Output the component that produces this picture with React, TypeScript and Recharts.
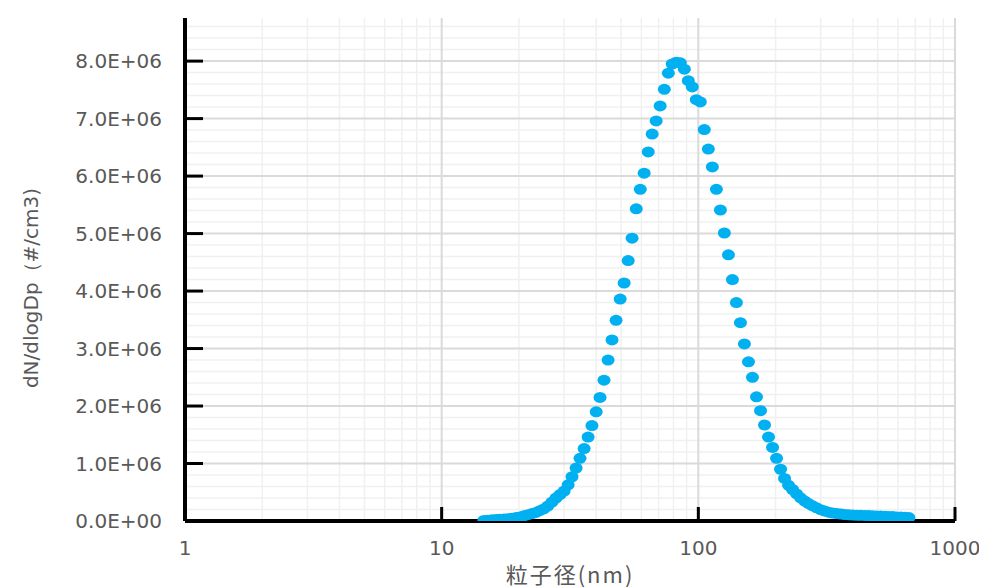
import { ScatterChart, Scatter, XAxis, YAxis, CartesianGrid, Label } from "recharts";

// 粒子径 (nm) — SMPS channel midpoints, 64 ch/decade
const diameters = [
  14.6, 15.1, 15.7, 16.3, 16.8, 17.5, 18.1, 18.8, 19.5, 20.2, 20.9, 21.7, 22.5, 23.3, 24.1, 25.0,
  25.9, 26.9, 27.9, 28.9, 30.0, 31.1, 32.2, 33.4, 34.6, 35.9, 37.2, 38.5, 40.0, 41.4, 42.9, 44.5,
  46.1, 47.8, 49.6, 51.4, 53.3, 55.2, 57.3, 59.4, 61.5, 63.8, 66.1, 68.5, 71.0, 73.7, 76.4, 79.1,
  82.0, 85.1, 88.2, 91.4, 94.7, 98.2, 101.8, 105.5, 109.4, 113.4, 117.6, 121.9, 126.3, 131.0, 135.8,
  140.7, 145.9, 151.2, 156.8, 162.5, 168.5, 174.7, 181.1, 187.7, 194.6, 201.7, 209.1, 216.7, 224.7,
  232.9, 241.4, 250.3, 259.5, 269.0, 278.8, 289.0, 299.6, 310.6, 322.0, 333.8, 346.0, 358.7, 371.8,
  385.4, 399.5, 414.2, 429.4, 445.1, 461.4, 478.3, 495.8, 514.0, 532.8, 552.3, 572.5, 593.5, 615.3,
  637.8, 661.2,
];

// dN/dlogDp in units of 1E+06 #/cm3
const dNdlogDp = [
  0.01, 0.015, 0.02, 0.025, 0.03, 0.035, 0.04, 0.05, 0.06, 0.07, 0.09, 0.11, 0.13, 0.15, 0.18, 0.21,
  0.26, 0.33, 0.40, 0.46, 0.52, 0.63, 0.77, 0.92, 1.09, 1.26, 1.46, 1.66, 1.90, 2.15, 2.45, 2.80,
  3.15, 3.49, 3.86, 4.14, 4.53, 4.92, 5.43, 5.77, 6.05, 6.42, 6.73, 6.96, 7.22, 7.51, 7.79, 7.95,
  7.98, 7.97, 7.86, 7.66, 7.55, 7.33, 7.29, 6.81, 6.47, 6.16, 5.77, 5.41, 5.01, 4.63, 4.20,
  3.80, 3.45, 3.08, 2.77, 2.50, 2.16, 1.92, 1.67, 1.46, 1.28, 1.09, 0.90, 0.74, 0.62,
  0.548, 0.47, 0.403, 0.348, 0.304, 0.264, 0.23, 0.197, 0.174, 0.153, 0.139, 0.129, 0.12, 0.113,
  0.108, 0.104, 0.10, 0.099, 0.096, 0.094, 0.092, 0.089, 0.087, 0.083, 0.08, 0.077, 0.071, 0.068,
  0.064, 0.059,
];

const xTicks = [1, 10, 100, 1000];
const xMajorGrid = [10, 100, 1000];
const xMinorGrid = [2, 3, 4, 5, 6, 7, 8, 9, 20, 30, 40, 50, 60, 70, 80, 90, 200, 300, 400, 500, 600, 700, 800, 900];
const yTicks = [0, 1e6, 2e6, 3e6, 4e6, 5e6, 6e6, 7e6, 8e6];
const yMajorGrid = [1e6, 2e6, 3e6, 4e6, 5e6, 6e6, 7e6, 8e6];
const yMinorGrid = [
  0.2e6, 0.4e6, 0.6e6, 0.8e6, 1.2e6, 1.4e6, 1.6e6, 1.8e6, 2.2e6, 2.4e6, 2.6e6, 2.8e6, 3.2e6, 3.4e6, 3.6e6, 3.8e6,
  4.2e6, 4.4e6, 4.6e6, 4.8e6, 5.2e6, 5.4e6, 5.6e6, 5.8e6, 6.2e6, 6.4e6, 6.6e6, 6.8e6, 7.2e6, 7.4e6, 7.6e6, 7.8e6,
  8.2e6, 8.4e6, 8.6e6,
];

const points = diameters.map((d, i) => ({ d, n: dNdlogDp[i] * 1e6 }));

const TEXT = "#595959";
const FONT = "'DejaVu Sans', sans-serif";

function sc(axis: any, v: number) {
  const s = axis?.scale;
  if (typeof s === "function") return s(v);
  if (s && typeof s.map === "function") return s.map(v);
  return 0;
}

function fmtY(v: number) {
  if (v === 0) return "0.0E+00";
  return `${(v / 1e6).toFixed(1)}E+06`;
}

const Dot = (props: any) => {
  const { cx, cy } = props;
  if (cx == null || cy == null) return null;
  return <ellipse cx={cx} cy={cy} rx={6.5} ry={5.5} fill="#00B0F0" />;
};

export default function App() {
  return (
    <div style={{ position: "relative", width: 979, height: 580 }}>
      <div style={{ position: "absolute", left: -1, top: 7, width: 1, height: 573, background: "#dcdcdc" }} />
      <ScatterChart width={979} height={580} margin={{ top: 10, right: 32, bottom: 0, left: 0 }}>
        <CartesianGrid
          stroke="#f0f0f0"
          strokeWidth={1.5}
          verticalCoordinatesGenerator={({ xAxis }: any) => xMinorGrid.map((v) => sc(xAxis, v))}
          horizontalCoordinatesGenerator={({ yAxis }: any) => yMinorGrid.map((v) => sc(yAxis, v))}
        />
        <CartesianGrid
          stroke="#dadada"
          strokeWidth={2}
          verticalCoordinatesGenerator={({ xAxis }: any) => xMajorGrid.map((v) => sc(xAxis, v))}
          horizontalCoordinatesGenerator={({ yAxis }: any) => yMajorGrid.map((v) => sc(yAxis, v))}
        />
        <XAxis
          type="number"
          dataKey="d"
          scale="log"
          domain={[1, 1000]}
          ticks={xTicks}
          interval={0}
          allowDataOverflow
          height={67}
          axisLine={{ stroke: "#000", strokeWidth: 4 }}
          tickLine={{ stroke: "#000", strokeWidth: 3 }}
          tickSize={-14}
          tickMargin={34}
          tick={{ fill: TEXT, fontSize: 20, fontFamily: FONT }}
        >
          <Label
            value="粒子径(nm)"
            position="insideBottom"
            offset={5}
            style={{ fill: TEXT, fontSize: 22, fontFamily: "'Noto Sans CJK JP', sans-serif", letterSpacing: 2 }}
          />
        </XAxis>
        <YAxis
          type="number"
          dataKey="n"
          domain={[0, 8.75e6]}
          ticks={yTicks}
          interval={0}
          allowDataOverflow
          width={177}
          tickFormatter={fmtY}
          axisLine={{ stroke: "#000", strokeWidth: 4 }}
          tickLine={{ stroke: "#000", strokeWidth: 3 }}
          tickSize={-18}
          tickMargin={41}
          tick={{ fill: TEXT, fontSize: 20, fontFamily: FONT }}
        >
          <Label
            content={() => (
              <text
                x={23}
                y={280}
                transform="rotate(-90 23 280)"
                textAnchor="middle"
                dominantBaseline="central"
                fill={TEXT}
                fontSize={20}
                fontFamily={FONT}
              >
                dN/dlogDp（#/cm3)
              </text>
            )}
          />
        </YAxis>
        <Scatter data={points} shape={<Dot />} isAnimationActive={false} />
      </ScatterChart>
    </div>
  );
}
